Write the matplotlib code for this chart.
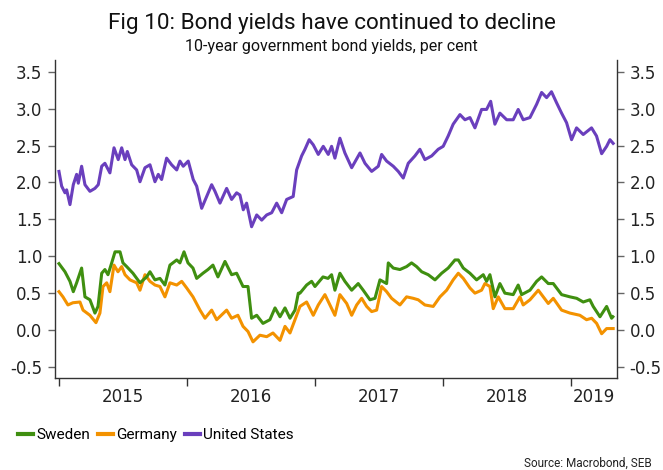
import matplotlib
matplotlib.use("Agg")
import matplotlib.pyplot as plt
from matplotlib import font_manager
from matplotlib.lines import Line2D
import numpy as np

# ---------------- data (decimal years, per cent) ----------------
sweden_t = [2015.000, 2015.047, 2015.086, 2015.112, 2015.138, 2015.177, 2015.203, 2015.242, 2015.281, 2015.305,
            2015.334, 2015.359, 2015.383, 2015.412, 2015.438, 2015.477, 2015.500, 2015.529, 2015.578, 2015.633,
            2015.685, 2015.711, 2015.750, 2015.789, 2015.828, 2015.867, 2015.920, 2015.945, 2015.977, 2016.008,
            2016.047, 2016.076, 2016.125, 2016.164, 2016.203, 2016.242, 2016.297, 2016.349, 2016.388, 2016.438,
            2016.477, 2016.505, 2016.545, 2016.594, 2016.648, 2016.688, 2016.727, 2016.766, 2016.805, 2016.844,
            2016.870, 2016.883, 2016.935, 2016.974, 2017.000, 2017.063, 2017.102, 2017.130, 2017.156, 2017.195,
            2017.234, 2017.287, 2017.338, 2017.377, 2017.430, 2017.469, 2017.508, 2017.560, 2017.573, 2017.612,
            2017.664, 2017.716, 2017.755, 2017.794, 2017.834, 2017.885, 2017.938, 2017.990, 2018.041, 2018.094,
            2018.120, 2018.159, 2018.211, 2018.263, 2018.315, 2018.341, 2018.367, 2018.406, 2018.445, 2018.484,
            2018.549, 2018.588, 2018.615, 2018.680, 2018.732, 2018.771, 2018.823, 2018.862, 2018.927, 2018.992,
            2019.045, 2019.096, 2019.148, 2019.174, 2019.227, 2019.279, 2019.318, 2019.328]
sweden_v = [0.90, 0.79, 0.66, 0.52, 0.64, 0.84, 0.45, 0.41, 0.23, 0.32,
            0.77, 0.82, 0.75, 0.91, 1.06, 1.06, 0.91, 0.86, 0.77, 0.64,
            0.72, 0.79, 0.68, 0.70, 0.61, 0.88, 0.95, 0.91, 1.06, 0.91,
            0.84, 0.70, 0.77, 0.82, 0.88, 0.72, 0.93, 0.75, 0.77, 0.59,
            0.59, 0.16, 0.20, 0.09, 0.14, 0.30, 0.18, 0.30, 0.16, 0.27,
            0.50, 0.50, 0.61, 0.66, 0.59, 0.72, 0.70, 0.75, 0.54, 0.77,
            0.66, 0.54, 0.63, 0.54, 0.41, 0.43, 0.68, 0.63, 0.91, 0.84,
            0.82, 0.86, 0.91, 0.86, 0.79, 0.75, 0.68, 0.77, 0.84, 0.95,
            0.95, 0.84, 0.77, 0.68, 0.75, 0.66, 0.75, 0.45, 0.63, 0.50,
            0.48, 0.61, 0.48, 0.54, 0.66, 0.72, 0.63, 0.63, 0.48, 0.45,
            0.43, 0.38, 0.41, 0.32, 0.18, 0.32, 0.16, 0.18]

germany_t = [2015.000, 2015.031, 2015.070, 2015.109, 2015.164, 2015.188, 2015.242, 2015.289, 2015.320, 2015.344,
             2015.373, 2015.398, 2015.430, 2015.461, 2015.490, 2015.516, 2015.555, 2015.607, 2015.633, 2015.672,
             2015.711, 2015.750, 2015.789, 2015.828, 2015.867, 2015.920, 2015.959, 2015.998, 2016.047, 2016.102,
             2016.141, 2016.193, 2016.232, 2016.310, 2016.349, 2016.398, 2016.438, 2016.477, 2016.516, 2016.570,
             2016.623, 2016.672, 2016.727, 2016.766, 2016.805, 2016.844, 2016.883, 2016.935, 2016.987, 2017.026,
             2017.078, 2017.117, 2017.156, 2017.195, 2017.248, 2017.287, 2017.326, 2017.365, 2017.404, 2017.443,
             2017.482, 2017.521, 2017.560, 2017.599, 2017.664, 2017.716, 2017.768, 2017.807, 2017.859, 2017.924,
             2017.977, 2018.029, 2018.080, 2018.120, 2018.159, 2018.211, 2018.250, 2018.302, 2018.328, 2018.367,
             2018.393, 2018.432, 2018.484, 2018.549, 2018.602, 2018.627, 2018.680, 2018.745, 2018.784, 2018.823,
             2018.862, 2018.927, 2018.992, 2019.070, 2019.122, 2019.162, 2019.201, 2019.240, 2019.279, 2019.330]
germany_v = [0.52, 0.45, 0.34, 0.37, 0.38, 0.27, 0.20, 0.10, 0.23, 0.59,
             0.64, 0.52, 0.88, 0.79, 0.86, 0.75, 0.68, 0.64, 0.54, 0.75,
             0.66, 0.61, 0.59, 0.45, 0.64, 0.61, 0.66, 0.57, 0.45, 0.27,
             0.16, 0.27, 0.14, 0.27, 0.16, 0.20, 0.05, -0.02, -0.16, -0.07,
             -0.09, -0.04, -0.14, 0.05, -0.04, 0.14, 0.32, 0.38, 0.20, 0.34,
             0.48, 0.34, 0.20, 0.48, 0.36, 0.20, 0.34, 0.43, 0.32, 0.25,
             0.27, 0.59, 0.52, 0.43, 0.34, 0.45, 0.43, 0.41, 0.34, 0.32,
             0.45, 0.54, 0.68, 0.77, 0.70, 0.57, 0.50, 0.54, 0.63, 0.59,
             0.29, 0.45, 0.29, 0.29, 0.45, 0.34, 0.41, 0.54, 0.45, 0.36,
             0.43, 0.27, 0.23, 0.20, 0.14, 0.16, 0.09, -0.05, 0.02, 0.02]

us_t = [2015.000, 2015.021, 2015.047, 2015.060, 2015.086, 2015.112, 2015.138, 2015.151, 2015.177, 2015.203,
        2015.242, 2015.281, 2015.307, 2015.334, 2015.359, 2015.398, 2015.430, 2015.463, 2015.490, 2015.516,
        2015.534, 2015.568, 2015.607, 2015.633, 2015.672, 2015.711, 2015.750, 2015.776, 2015.802, 2015.841,
        2015.880, 2015.920, 2015.945, 2015.971, 2016.010, 2016.049, 2016.076, 2016.115, 2016.154, 2016.193,
        2016.219, 2016.258, 2016.310, 2016.349, 2016.388, 2016.414, 2016.440, 2016.466, 2016.505, 2016.545,
        2016.584, 2016.623, 2016.662, 2016.701, 2016.740, 2016.779, 2016.830, 2016.857, 2016.896, 2016.922,
        2016.955, 2016.987, 2017.026, 2017.065, 2017.104, 2017.130, 2017.156, 2017.195, 2017.234, 2017.287,
        2017.352, 2017.391, 2017.443, 2017.495, 2017.521, 2017.560, 2017.612, 2017.651, 2017.690, 2017.729,
        2017.781, 2017.820, 2017.859, 2017.912, 2017.963, 2018.002, 2018.041, 2018.080, 2018.133, 2018.172,
        2018.211, 2018.250, 2018.302, 2018.341, 2018.373, 2018.406, 2018.445, 2018.498, 2018.549, 2018.588,
        2018.627, 2018.680, 2018.732, 2018.771, 2018.810, 2018.848, 2018.888, 2018.927, 2018.966, 2019.005,
        2019.044, 2019.096, 2019.161, 2019.200, 2019.240, 2019.279, 2019.305, 2019.330]
us_v = [2.15, 1.95, 1.86, 1.90, 1.70, 1.97, 2.11, 1.99, 2.22, 1.97,
        1.88, 1.92, 1.97, 2.22, 2.26, 2.13, 2.47, 2.31, 2.47, 2.31,
        2.42, 2.24, 2.17, 2.01, 2.20, 2.24, 2.01, 2.11, 2.04, 2.33,
        2.24, 2.17, 2.29, 2.22, 2.29, 2.04, 1.95, 1.65, 1.81, 1.97,
        1.88, 1.72, 1.92, 1.77, 1.86, 1.83, 1.63, 1.72, 1.40, 1.56,
        1.49, 1.56, 1.59, 1.72, 1.59, 1.77, 1.81, 2.17, 2.36, 2.45,
        2.58, 2.51, 2.38, 2.49, 2.38, 2.49, 2.33, 2.60, 2.40, 2.20,
        2.40, 2.26, 2.15, 2.22, 2.38, 2.29, 2.22, 2.15, 2.06, 2.26,
        2.36, 2.45, 2.31, 2.36, 2.45, 2.49, 2.63, 2.79, 2.92, 2.85,
        2.88, 2.74, 2.99, 2.99, 3.10, 2.79, 2.94, 2.85, 2.85, 2.99,
        2.85, 2.88, 3.06, 3.22, 3.15, 3.23, 3.08, 2.94, 2.81, 2.58,
        2.74, 2.65, 2.74, 2.63, 2.39, 2.49, 2.58, 2.53]

series_names = ["Sweden", "Germany", "United States"]
series_colors = ["#3f8f10", "#f39200", "#6a3fbd"]
year_ticks = [2015, 2016, 2017, 2018, 2019]
y_ticks = [-0.5, 0.0, 0.5, 1.0, 1.5, 2.0, 2.5, 3.0, 3.5]

title = "Fig 10: Bond yields have continued to decline"
subtitle = "10-year government bond yields, per cent"
source = "Source: Macrobond, SEB"

# ---------------- fonts ----------------
available = {f.name for f in font_manager.fontManager.ttflist}
narrow = "Liberation Sans Narrow" if "Liberation Sans Narrow" in available else "Roboto"
tickfont = "DejaVu Sans"

# ---------------- figure ----------------
W, H = 663, 470
fig = plt.figure(figsize=(W / 100, H / 100), dpi=100)
ax = fig.add_axes([55 / W, 1 - 378 / H, (617 - 55) / W, (378 - 60) / H])

xmin, xmax = 2014.969, 2019.36
ymin, ymax = -0.65, 3.66

for t, v, c in [(us_t, us_v, series_colors[2]),
                (germany_t, germany_v, series_colors[1]),
                (sweden_t, sweden_v, series_colors[0])]:
    ax.plot(t, v, color=c, lw=2.2, solid_joinstyle="round")

ax.set_xlim(xmin, xmax)
ax.set_ylim(ymin, ymax)

ax.spines["top"].set_visible(False)
spine_color = "#333333"
for s in ["left", "bottom", "right"]:
    ax.spines[s].set_color(spine_color)
    ax.spines[s].set_linewidth(1.0)

# x ticks: major ticks at year boundaries, labels centred on visible part of each year
ax.set_xticks(year_ticks)
ax.set_xticklabels([])
mids = []
for y in year_ticks:
    a, b = max(y, xmin), min(y + 1, xmax)
    mids.append((a + b) / 2)
ax.set_xticks(mids, minor=True)
ax.set_xticklabels([str(y) for y in year_ticks], minor=True, fontsize=12, family=tickfont, color="#222222")
ax.tick_params(axis="x", which="major", length=6, width=1, color=spine_color, direction="out")
ax.tick_params(axis="x", which="minor", length=0, pad=7)

# y ticks on both sides
ax.set_yticks(y_ticks)
ax.set_yticklabels([f"{v:.1f}" for v in y_ticks], fontsize=12, family=tickfont, color="#222222")
ax.tick_params(axis="y", which="major", length=5, width=1, color="#666666", direction="out", pad=4,
               left=True, right=True, labelleft=True, labelright=True)

# titles
fig.text(0.5, 1 - 23 / H, title, ha="center", va="center", fontsize=16.2, family=narrow, color="#111111")
fig.text(0.5, 1 - 47 / H, subtitle, ha="center", va="center", fontsize=11.5, family=narrow, color="#111111")

# legend
handles = [Line2D([0], [0], color=c, lw=3) for c in series_colors]
leg = fig.legend(handles, series_names, loc="center left", bbox_to_anchor=(18 / W, 1 - 435 / H),
                 ncol=3, frameon=False, handlelength=1.0, handletextpad=0.2, columnspacing=0.5,
                 prop={"family": narrow, "size": 11}, borderaxespad=0, borderpad=0)

fig.text(652 / W, 1 - 463 / H, source, ha="right", va="center", fontsize=8.5, family=narrow, color="#222222")

fig.savefig("out.png", dpi=100)
